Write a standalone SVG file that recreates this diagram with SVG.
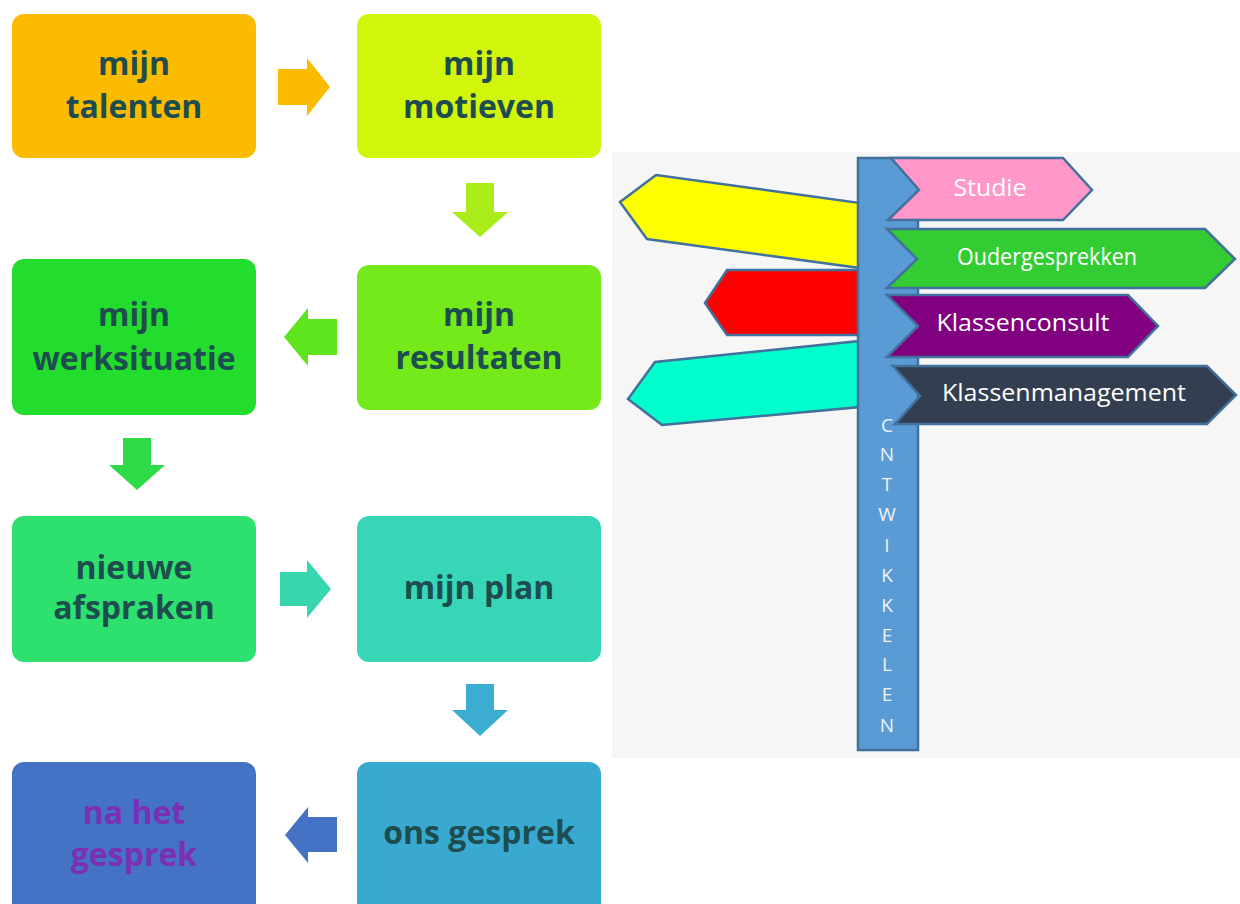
<svg xmlns="http://www.w3.org/2000/svg" width="1240" height="904" viewBox="0 0 1240 904">
<style>
.box{stroke:none}
.bt{font-family:"Open Sans","Liberation Sans",sans-serif;font-weight:700;font-size:32px;fill:#1D4D4F;text-anchor:middle}
.sign{stroke:#41719C;stroke-width:2.5;stroke-linejoin:miter}
.st{font-family:"Open Sans","Liberation Sans",sans-serif;font-size:23px;fill:#FFFFFF;text-anchor:middle}
.vt{font-family:"Open Sans","Liberation Sans",sans-serif;font-size:19px;fill:#EEF3FA;text-anchor:middle}
</style>
<rect x="0" y="0" width="1240" height="904" fill="#FFFFFF"/>
<rect x="612" y="152" width="628" height="606" fill="#F6F6F6"/>

<g id="connectors">
  <path d="M278,69 H307 V58 L330,87 L307,116 V105 H278 Z" fill="#FDBB00"/>
  <path d="M466,183 H494 V212 H508 L480,237 L452,212 H466 Z" fill="#A9EC1A"/>
  <path d="M337,319 H308 V308 L284,337 L308,366 V355 H337 Z" fill="#5EE51E"/>
  <path d="M123,438 H151 V465 H165 L137,490 L109,465 H123 Z" fill="#2EDB47"/>
  <path d="M280,572 H307 V560 L331,589 L307,618 V606 H280 Z" fill="#38D6AE"/>
  <path d="M466,684 H494 V710 H508 L480,736 L452,710 H466 Z" fill="#3AADD0"/>
  <path d="M337,817 H308 V807 L285,835 L308,863 V852 H337 Z" fill="#4472C4"/>
</g>

<g id="n-talenten">
  <rect class="box" x="12" y="14" width="244" height="144" rx="12" fill="#FDBB00"/>
  <text class="bt" x="134" y="75">mijn</text>
  <text class="bt" x="134" y="118">talenten</text>
</g>
<g id="n-motieven">
  <rect class="box" x="357" y="14" width="244" height="144" rx="12" fill="#D2F50C"/>
  <text class="bt" x="479" y="75">mijn</text>
  <text class="bt" x="479" y="118">motieven</text>
</g>
<g id="n-resultaten">
  <rect class="box" x="357" y="265" width="244" height="145" rx="12" fill="#74EA1A"/>
  <text class="bt" x="479" y="326">mijn</text>
  <text class="bt" x="479" y="369">resultaten</text>
</g>
<g id="n-werksituatie">
  <rect class="box" x="12" y="259" width="244" height="156" rx="12" fill="#22DD2E"/>
  <text class="bt" x="134" y="326">mijn</text>
  <text class="bt" x="134" y="370">werksituatie</text>
</g>
<g id="n-afspraken">
  <rect class="box" x="12" y="516" width="244" height="146" rx="12" fill="#2EE06E"/>
  <text class="bt" x="134" y="579">nieuwe</text>
  <text class="bt" x="134" y="619">afspraken</text>
</g>
<g id="n-plan">
  <rect class="box" x="357" y="516" width="244" height="146" rx="12" fill="#36D6B7"/>
  <text class="bt" x="479" y="599">mijn plan</text>
</g>
<g id="n-gesprek">
  <rect class="box" x="357" y="762" width="244" height="160" rx="12" fill="#3AA9CF"/>
  <text class="bt" x="479" y="844">ons gesprek</text>
</g>
<g id="n-na">
  <rect class="box" x="12" y="762" width="244" height="160" rx="12" fill="#4472C4"/>
  <text class="bt" x="134" y="824" style="fill:#7B2FB5">na het</text>
  <text class="bt" x="134" y="866" style="fill:#7B2FB5">gesprek</text>
</g>

<g id="sign-yellow">
  <polygon class="sign" points="620,202 656,175 860,203 860,268 647,239" fill="#FFFF00"/>
</g>
<g id="sign-red">
  <polygon class="sign" points="705,303 727,270 860,270 860,335 727,335" fill="#FF0000"/>
</g>
<g id="sign-cyan">
  <polygon class="sign" points="628,399 655,362 860,341 860,407 662,425" fill="#00FFCC"/>
</g>

<g id="pole">
  <rect class="sign" x="858" y="158" width="60" height="592" fill="#5B9BD5"/>
  <text class="vt" x="887" y="432">C</text>
  <text class="vt" x="887" y="461">N</text>
  <text class="vt" x="887" y="491">T</text>
  <text class="vt" x="887" y="521">W</text>
  <text class="vt" x="887" y="552">I</text>
  <text class="vt" x="887" y="582">K</text>
  <text class="vt" x="887" y="612">K</text>
  <text class="vt" x="887" y="642">E</text>
  <text class="vt" x="887" y="671">L</text>
  <text class="vt" x="887" y="701">E</text>
  <text class="vt" x="887" y="732">N</text>
</g>

<g id="sign-studie">
  <polygon class="sign" points="891,158 1063,158 1092,190 1063,220 888,220 919,190" fill="#FF97C8"/>
  <text class="st" x="990" y="196" textLength="73" lengthAdjust="spacingAndGlyphs">Studie</text>
</g>
<g id="sign-ouder">
  <polygon class="sign" points="887,229 1205,229 1235,259 1205,288 887,288 917,259" fill="#33CC33"/>
  <text class="st" x="1047" y="265" textLength="180" lengthAdjust="spacingAndGlyphs">Oudergesprekken</text>
</g>
<g id="sign-consult">
  <polygon class="sign" points="887,295 1128,295 1158,326 1128,357 887,357 918,326" fill="#800080"/>
  <text class="st" x="1023" y="331" textLength="173" lengthAdjust="spacingAndGlyphs">Klassenconsult</text>
</g>
<g id="sign-management">
  <polygon class="sign" points="893,366 1207,366 1236,395 1207,424 895,424 920,396" fill="#333F50"/>
  <text class="st" x="1064" y="401" textLength="244" lengthAdjust="spacingAndGlyphs">Klassenmanagement</text>
</g>
</svg>
